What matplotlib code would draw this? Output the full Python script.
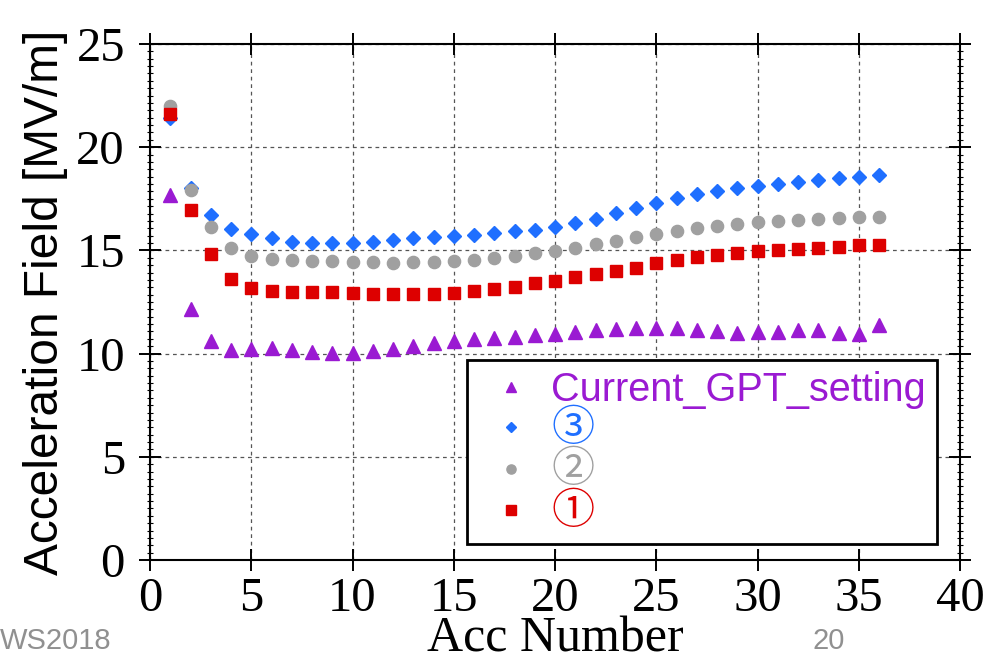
import numpy as np
import matplotlib
matplotlib.use("Agg")
import matplotlib.pyplot as plt
from matplotlib.ticker import MultipleLocator, AutoMinorLocator

acc = np.arange(1, 37)

current_gpt = [17.7, 12.15, 10.6, 10.18, 10.22, 10.25, 10.18, 10.06, 10.02, 10.03,
               10.11, 10.24, 10.39, 10.53, 10.62, 10.70, 10.78, 10.81, 10.91, 10.97,
               11.05, 11.13, 11.20, 11.23, 11.23, 11.22, 11.13, 11.08, 11.02, 11.05,
               11.07, 11.12, 11.13, 11.02, 10.97, 11.38]
case3 = [21.4, 18.03, 16.71, 16.05, 15.78, 15.59, 15.43, 15.36, 15.35, 15.36,
         15.39, 15.50, 15.60, 15.67, 15.71, 15.76, 15.83, 15.92, 15.99, 16.12,
         16.31, 16.54, 16.80, 17.06, 17.30, 17.54, 17.74, 17.90, 18.01, 18.12,
         18.20, 18.30, 18.40, 18.50, 18.56, 18.64]
case2 = [22.0, 17.95, 16.13, 15.14, 14.73, 14.57, 14.52, 14.49, 14.49, 14.46,
         14.43, 14.41, 14.43, 14.46, 14.47, 14.53, 14.63, 14.74, 14.85, 14.95,
         15.12, 15.31, 15.47, 15.63, 15.79, 15.96, 16.09, 16.20, 16.28, 16.36,
         16.42, 16.47, 16.50, 16.57, 16.64, 16.64]
case1 = [21.6, 16.94, 14.81, 13.60, 13.17, 13.01, 12.98, 12.98, 12.98, 12.95,
         12.91, 12.88, 12.88, 12.91, 12.96, 13.04, 13.14, 13.25, 13.40, 13.53,
         13.72, 13.85, 14.01, 14.17, 14.37, 14.55, 14.66, 14.80, 14.86, 14.95,
         15.00, 15.05, 15.11, 15.18, 15.28, 15.28]

labels = ["Current_GPT_setting", "③", "②", "①"]
colors = ["#9A1AD2", "#1F6FFF", "#A0A0A0", "#DD0000"]

fig = plt.figure(figsize=(9.9, 6.57), dpi=100)
ax = fig.add_axes([150 / 990, 1 - 560 / 657, 810 / 990, 516 / 657])

ax.plot(acc, current_gpt, ls="none", marker="^", ms=9.5, color=colors[0], label=labels[0])
ax.plot(acc, case3, ls="none", marker="D", ms=7.3, color=colors[1], label=labels[1])
ax.plot(acc, case2, ls="none", marker="o", ms=8.8, color=colors[2], label=labels[2])
ax.plot(acc, case1, ls="none", marker="s", ms=9.3, color=colors[3], label=labels[3])

ax.set_xlim(0, 40)
ax.set_ylim(0, 25)
ax.xaxis.set_major_locator(MultipleLocator(5))
ax.yaxis.set_major_locator(MultipleLocator(5))
ax.yaxis.set_minor_locator(AutoMinorLocator(14))

ax.grid(True, which="major", color="#555555", ls=(0, (3, 3)), lw=0.9)
for s in ax.spines.values():
    s.set_linewidth(1.5)

serif = "Liberation Serif"
ax.tick_params(which="major", direction="inout", length=16, width=1.4,
               top=True, right=True, labelsize=35)
ax.tick_params(which="minor", direction="inout", length=4, width=0.8,
               left=True, right=True)
ax.tick_params(axis="y", pad=10)
ax.tick_params(axis="x", pad=4)
for lab in ax.get_xticklabels() + ax.get_yticklabels():
    lab.set_fontfamily(serif)

ax.set_xlabel("Acc Number", family=serif, fontsize=36)
ax.xaxis.set_label_coords(0.5, -0.108)
ax.set_ylabel("Acceleration Field [MV/m]", family="Liberation Sans", fontsize=34.5, labelpad=6)

leg = ax.legend(loc="upper left", bbox_to_anchor=(467 / 990, 1 - 360 / 657),
                bbox_transform=fig.transFigure, borderaxespad=0,
                prop={"family": ["Liberation Sans", "Noto Sans CJK JP"], "size": 28.5},
                markerscale=0.75, handlelength=1.65, handletextpad=0.2,
                labelspacing=0.03, borderpad=0.28, fancybox=False,
                edgecolor="black", framealpha=1)
leg.get_frame().set_linewidth(2)
for txt, c in zip(leg.get_texts(), colors):
    txt.set_color(c)
for txt in leg.get_texts()[1:]:
    txt.set_fontsize(31)

fig.text(0.0, 0.012, "WS2018", color="#909090", fontsize=21, family="Liberation Sans",
         ha="left", va="baseline")
fig.text(812 / 990, 0.012, "20", color="#909090", fontsize=21, family="Liberation Sans",
         ha="left", va="baseline")

fig.savefig("out.png", dpi=100)
